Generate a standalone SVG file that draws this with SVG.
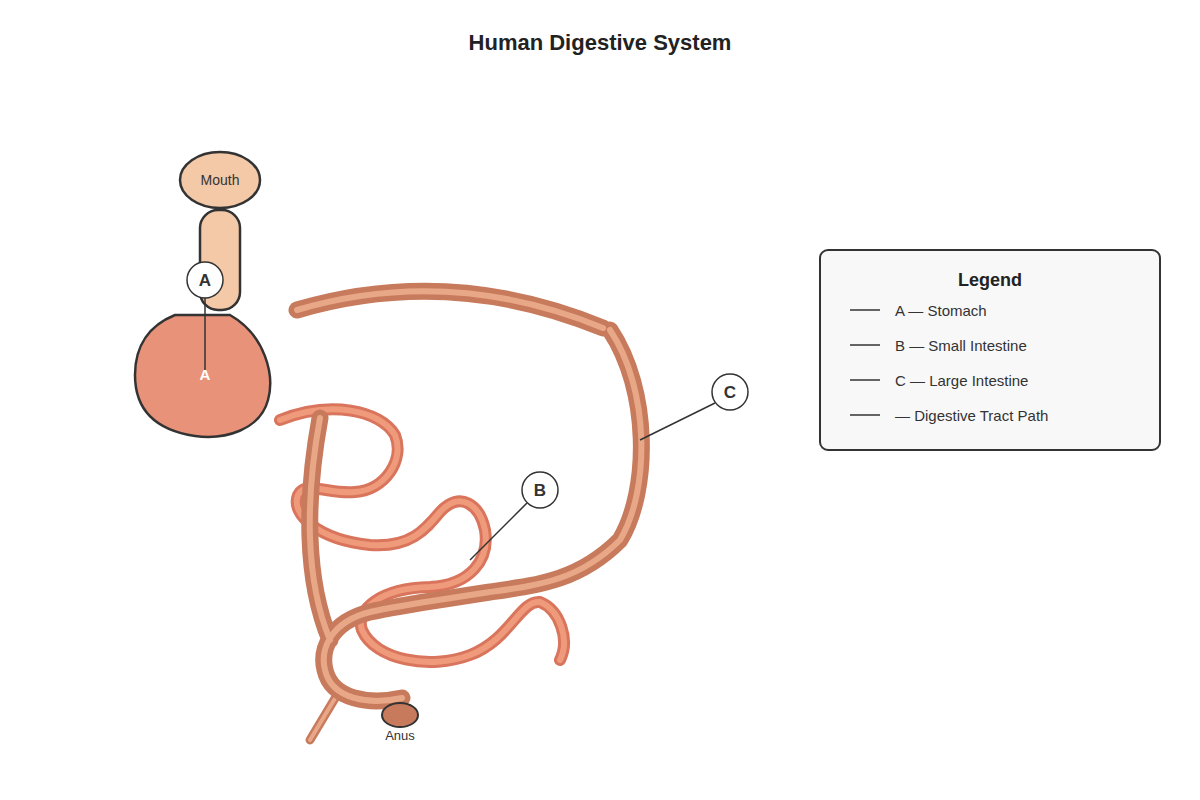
<svg xmlns="http://www.w3.org/2000/svg" width="1200" height="800" viewBox="0 0 1200 800">
<style>
.t{font-family:"Liberation Sans",Arial,sans-serif;fill:#333}
.so{fill:none;stroke:#d9755c;stroke-width:12;stroke-linecap:round;stroke-linejoin:round}
.si{fill:none;stroke:#f09a7c;stroke-width:6;stroke-linecap:round;stroke-linejoin:round}
.lo{fill:none;stroke:#c87b5c;stroke-width:17;stroke-linecap:round;stroke-linejoin:round}
.li{fill:none;stroke:#e8a888;stroke-width:6;stroke-linecap:round;stroke-linejoin:round}
.lab{fill:#fff;stroke:#333;stroke-width:1.5}
.ln{stroke:#333;stroke-width:1.5}
</style>
<rect width="1200" height="800" fill="#fff"/>
<text x="600" y="50" text-anchor="middle" class="t" style="font-size:22px;font-weight:bold;fill:#222">Human Digestive System</text>
<g id="small-intestine">
<path class="so" d="M280,420 C330,400 380,410 395,435 C405,460 385,490 355,492 C330,495 305,480 298,495 C290,515 320,540 370,545 C410,548 425,530 440,512 C460,490 480,505 485,530 C490,560 470,585 430,587 C380,588 355,610 362,630 C375,660 430,670 470,655 C510,640 520,600 540,602 C560,610 570,640 560,660"/>
<path class="si" d="M280,420 C330,400 380,410 395,435 C405,460 385,490 355,492 C330,495 305,480 298,495 C290,515 320,540 370,545 C410,548 425,530 440,512 C460,490 480,505 485,530 C490,560 470,585 430,587 C380,588 355,610 362,630 C375,660 430,670 470,655 C510,640 520,600 540,602 C560,610 570,640 560,660"/>
</g>
<g id="large-intestine">
<path class="lo" d="M310,740 L340,690" style="stroke-width:9"/>
<path class="li" d="M310,740 L340,690" style="stroke-width:4"/>
<path class="lo" d="M297,310 Q450,265 603,328 M610,330 C650,390 650,490 620,540 C580,580 540,585 490,592 C440,600 400,605 370,612 C330,622 320,650 325,670 C332,700 370,705 402,698 M320,418 C305,500 305,580 330,640"/>
<path class="li" d="M297,310 Q450,265 603,328 M610,330 C650,390 650,490 620,540 C580,580 540,585 490,592 C440,600 400,605 370,612 C330,622 320,650 325,670 C332,700 370,705 402,698 M320,418 C305,500 305,580 330,640"/>
</g>
<g id="esophagus"><rect x="200" y="210" width="40" height="100" rx="18" fill="#f4c9a8" stroke="#333" stroke-width="2.5"/></g>
<g id="mouth"><ellipse cx="220" cy="180" rx="40" ry="28" fill="#f4c9a8" stroke="#333" stroke-width="2.5"/><text x="220" y="185" text-anchor="middle" class="t" style="font-size:14px">Mouth</text></g>
<g id="stomach"><path d="M175,315 L230,315 C265,335 275,375 268,400 C260,430 225,440 195,436 C155,430 135,410 135,375 C135,345 150,325 175,315 Z" fill="#e8927a" stroke="#333" stroke-width="2.5"/><text x="205" y="380" text-anchor="middle" class="t" style="font-size:15px;font-weight:bold;fill:#fff">A</text></g>
<g id="anus"><ellipse cx="400" cy="715" rx="18" ry="12" fill="#c87b5c" stroke="#333" stroke-width="2"/><text x="400" y="740" text-anchor="middle" class="t" style="font-size:13px">Anus</text></g>
<g id="connectors">
<line class="ln" x1="205" y1="298" x2="205" y2="370"/>
<line class="ln" x1="527" y1="503" x2="470" y2="560"/>
<line class="ln" x1="715" y1="403" x2="640" y2="440"/>
</g>
<g id="label-A"><circle class="lab" cx="205" cy="280" r="18"/><text x="205" y="286" text-anchor="middle" class="t" style="font-size:17px;font-weight:bold">A</text></g>
<g id="label-B"><circle class="lab" cx="540" cy="490" r="18"/><text x="540" y="496" text-anchor="middle" class="t" style="font-size:17px;font-weight:bold">B</text></g>
<g id="label-C"><circle class="lab" cx="730" cy="392" r="18"/><text x="730" y="398" text-anchor="middle" class="t" style="font-size:17px;font-weight:bold">C</text></g>
<g id="legend">
<rect x="820" y="250" width="340" height="200" rx="8" fill="#f8f8f8" stroke="#333" stroke-width="2"/>
<text x="990" y="286" text-anchor="middle" class="t" style="font-size:18px;font-weight:bold;fill:#222">Legend</text>
<g class="ln"><line x1="850" y1="310" x2="880" y2="310"/><line x1="850" y1="345" x2="880" y2="345"/><line x1="850" y1="380" x2="880" y2="380"/><line x1="850" y1="415" x2="880" y2="415"/></g>
<g class="t" style="font-size:15px"><text x="895" y="316">A — Stomach</text><text x="895" y="351">B — Small Intestine</text><text x="895" y="386">C — Large Intestine</text><text x="895" y="421">— Digestive Tract Path</text></g>
</g>
</svg>
